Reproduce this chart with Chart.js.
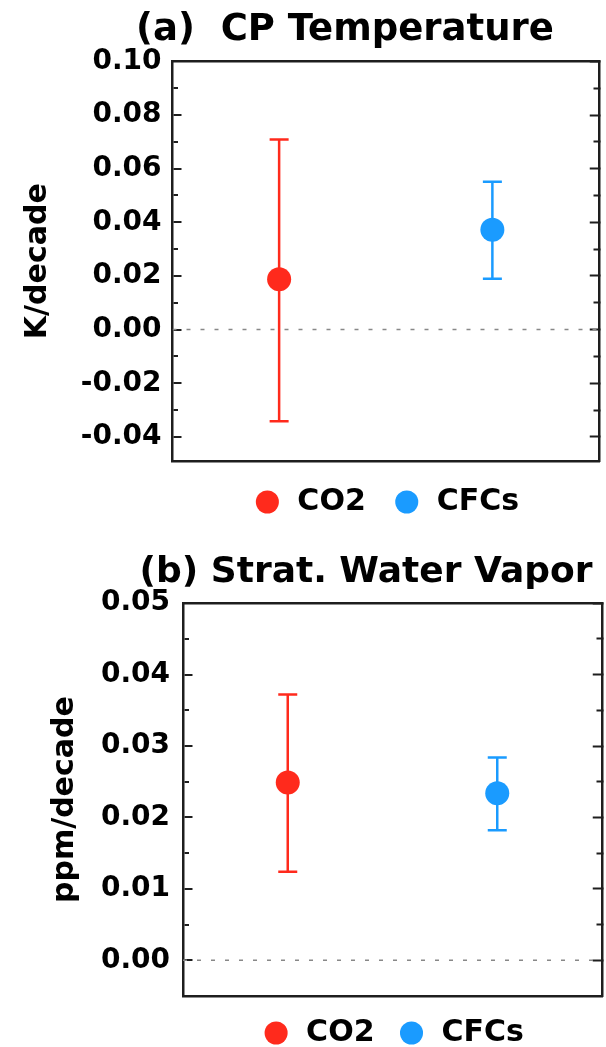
<!DOCTYPE html>
<html>
<head>
<meta charset="utf-8">
<script src="https://cdn.jsdelivr.net/npm/chart.js@4/dist/chart.umd.min.js"></script>
<style>
html,body{margin:0;padding:0;background:#fff;overflow:hidden;width:606px;height:1047px}
#wrap{position:relative;width:606px;height:1047px;overflow:hidden;background:#fff}
canvas{position:absolute;left:0}
#ca{top:0}
#cb{top:540px}
</style>
</head>
<body>
<div id="wrap">
<canvas id="ca" width="690" height="540"></canvas>
<canvas id="cb" width="732" height="518"></canvas>
</div>
<script>
// ---- data ----
const categories = ['CO2', 'CFCs'];

// (a) CP Temperature trend, K/decade
const cpTrend = [0.0188, 0.0372];
const cpLow   = [-0.0342, 0.0190];
const cpHigh  = [0.0709, 0.0551];
const cpTickLabels = ['-0.04', '-0.02', '0.00', '0.02', '0.04', '0.06', '0.08', '0.10'];
const cpMinorTicks = [-0.03, -0.01, 0.01, 0.03, 0.05, 0.07, 0.09];

// (b) Strat. Water Vapor trend, ppm/decade
const wvTrend = [0.0249, 0.0234];
const wvLow   = [0.0124, 0.0182];
const wvHigh  = [0.0372, 0.0284];
const wvTickLabels = ['0.00', '0.01', '0.02', '0.03', '0.04', '0.05'];
const wvMinorTicks = [0.005, 0.015, 0.025, 0.035, 0.045];

// ---- styles ----
const FONT = "'DejaVu Sans', 'Liberation Sans', sans-serif";
const seriesColors = ['#ff2a1c', '#1a9bff'];
const frameColor = '#1e1e1e';

function buildChart(canvasId, p) {
  const n = categories.length;
  const xPos = categories.map((_, i) => (i + 0.5) / n);
  const datasets = [];
  categories.forEach((c, i) => datasets.push({
    label: c,
    data: [{x: xPos[i], y: p.trend[i]}],
    showLine: false,
    pointStyle: 'circle', pointRadius: 12, pointHoverRadius: 12,
    backgroundColor: seriesColors[i], borderColor: seriesColors[i],
    pointBackgroundColor: seriesColors[i], pointBorderColor: seriesColors[i],
    pointBorderWidth: 0, borderWidth: 0
  }));
  categories.forEach((c, i) => datasets.push({
    label: c + ' range',
    data: [{x: xPos[i], y: p.low[i]}, {x: xPos[i], y: p.high[i]}],
    showLine: true,
    borderColor: seriesColors[i], borderWidth: 2.5,
    pointStyle: 'line', pointRadius: 9.5, pointHoverRadius: 9.5,
    pointBorderColor: seriesColors[i], pointBackgroundColor: seriesColors[i],
    pointBorderWidth: 2.5
  }));
  datasets.push({
    label: 'zero',
    data: [{x: 0, y: 0}, {x: 1, y: 0}],
    showLine: true, borderColor: '#888888', borderWidth: 1.5,
    borderDash: [4, 10], pointRadius: 0, pointHoverRadius: 0
  });

  const buildTicks = (scale) => {
    const t = p.tickLabels.map(s => ({value: parseFloat(s), isMajor: true, lbl: s}))
      .concat(p.minorTicks.map(v => ({value: v, isMajor: false, lbl: ''})));
    t.sort((a, b) => a.value - b.value);
    scale.ticks = t;
  };

  const xFrame = (position) => ({
    type: 'linear', position, min: 0, max: 1, display: true,
    ticks: {display: false},
    grid: {display: false, drawTicks: false},
    border: {display: true, width: 2.5, color: frameColor}
  });

  return new Chart(document.getElementById(canvasId), {
    type: 'scatter',
    data: {datasets},
    options: {
      responsive: false,
      devicePixelRatio: 1,
      animation: false,
      events: [],
      layout: {padding: {left: 0, right: 0, top: 0, bottom: p.bottomPad}},
      scales: {
        x: xFrame('bottom'),
        xTop: xFrame('top'),
        yRight: {
          type: 'linear', position: 'right', min: p.min, max: p.max, display: true,
          afterBuildTicks: buildTicks,
          afterFit: (s) => { s.width = p.rightSpace; },
          ticks: {display: false, autoSkip: false},
          grid: {
            display: true, drawOnChartArea: false, drawTicks: true, tickLength: -9.25,
            tickColor: frameColor, tickWidth: 2,
            tickBorderDash: (c) => (c.tick && !c.tick.isMajor) ? [7, 100] : []
          },
          border: {display: true, width: 2.5, color: frameColor}
        },
        y: {
          type: 'linear', position: 'left', min: p.min, max: p.max,
          afterBuildTicks: buildTicks,
          ticks: {
            autoSkip: false, padding: p.tickPad, color: '#000',
            font: {family: FONT, size: 28, weight: 'bold'},
            callback: (v, i, ticks) => ticks[i].lbl
          },
          grid: {
            display: true, drawOnChartArea: true, drawTicks: false,
            color: frameColor, lineWidth: 2
          },
          border: {
            display: true, width: 2.5, color: frameColor,
            dash: (c) => {
              if (!c.tick) return [];
              return [c.tick.isMajor ? 8 : 4.5, 5000];
            }
          },
          title: {
            display: true, text: p.yTitle, color: '#000',
            font: {family: FONT, size: 30, weight: 'bold', lineHeight: 1.2},
            padding: {top: p.ytTop, bottom: p.ytBottom}
          }
        }
      },
      plugins: {
        tooltip: {enabled: false},
        title: {
          display: true, text: p.title, color: '#000',
          font: {family: FONT, size: p.titleSize, weight: 'bold', lineHeight: 1.2},
          padding: {top: p.titleTop, bottom: p.titleBottom}
        },
        legend: {
          display: true, position: 'bottom', fullSize: false,
          labels: {
            usePointStyle: true, boxHeight: 16.3, padding: p.legendPad, color: '#000',
            font: {family: FONT, size: 30, weight: 'bold'},
            filter: (item) => categories.includes(item.text)
          }
        }
      }
    }
  });
}

buildChart('ca', {
  title: '(a)  CP Temperature', titleSize: 37, titleTop: 8, titleBottom: 9,
  yTitle: 'K/decade', ytTop: 20, ytBottom: 19, tickPad: 11,
  min: -0.049, max: 0.10,
  trend: cpTrend, low: cpLow, high: cpHigh,
  tickLabels: cpTickLabels, minorTicks: cpMinorTicks,
  rightSpace: 91, legendPad: 26, bottomPad: 13
});

buildChart('cb', {
  title: '(b) Strat. Water Vapor', titleSize: 36, titleTop: 11, titleBottom: 9,
  yTitle: 'ppm/decade', ytTop: 47, ytBottom: 11, tickPad: 13,
  min: -0.005, max: 0.05,
  trend: wvTrend, low: wvLow, high: wvHigh,
  tickLabels: wvTickLabels, minorTicks: wvMinorTicks,
  rightSpace: 130, legendPad: 22, bottomPad: 0
});
</script>
</body>
</html>
